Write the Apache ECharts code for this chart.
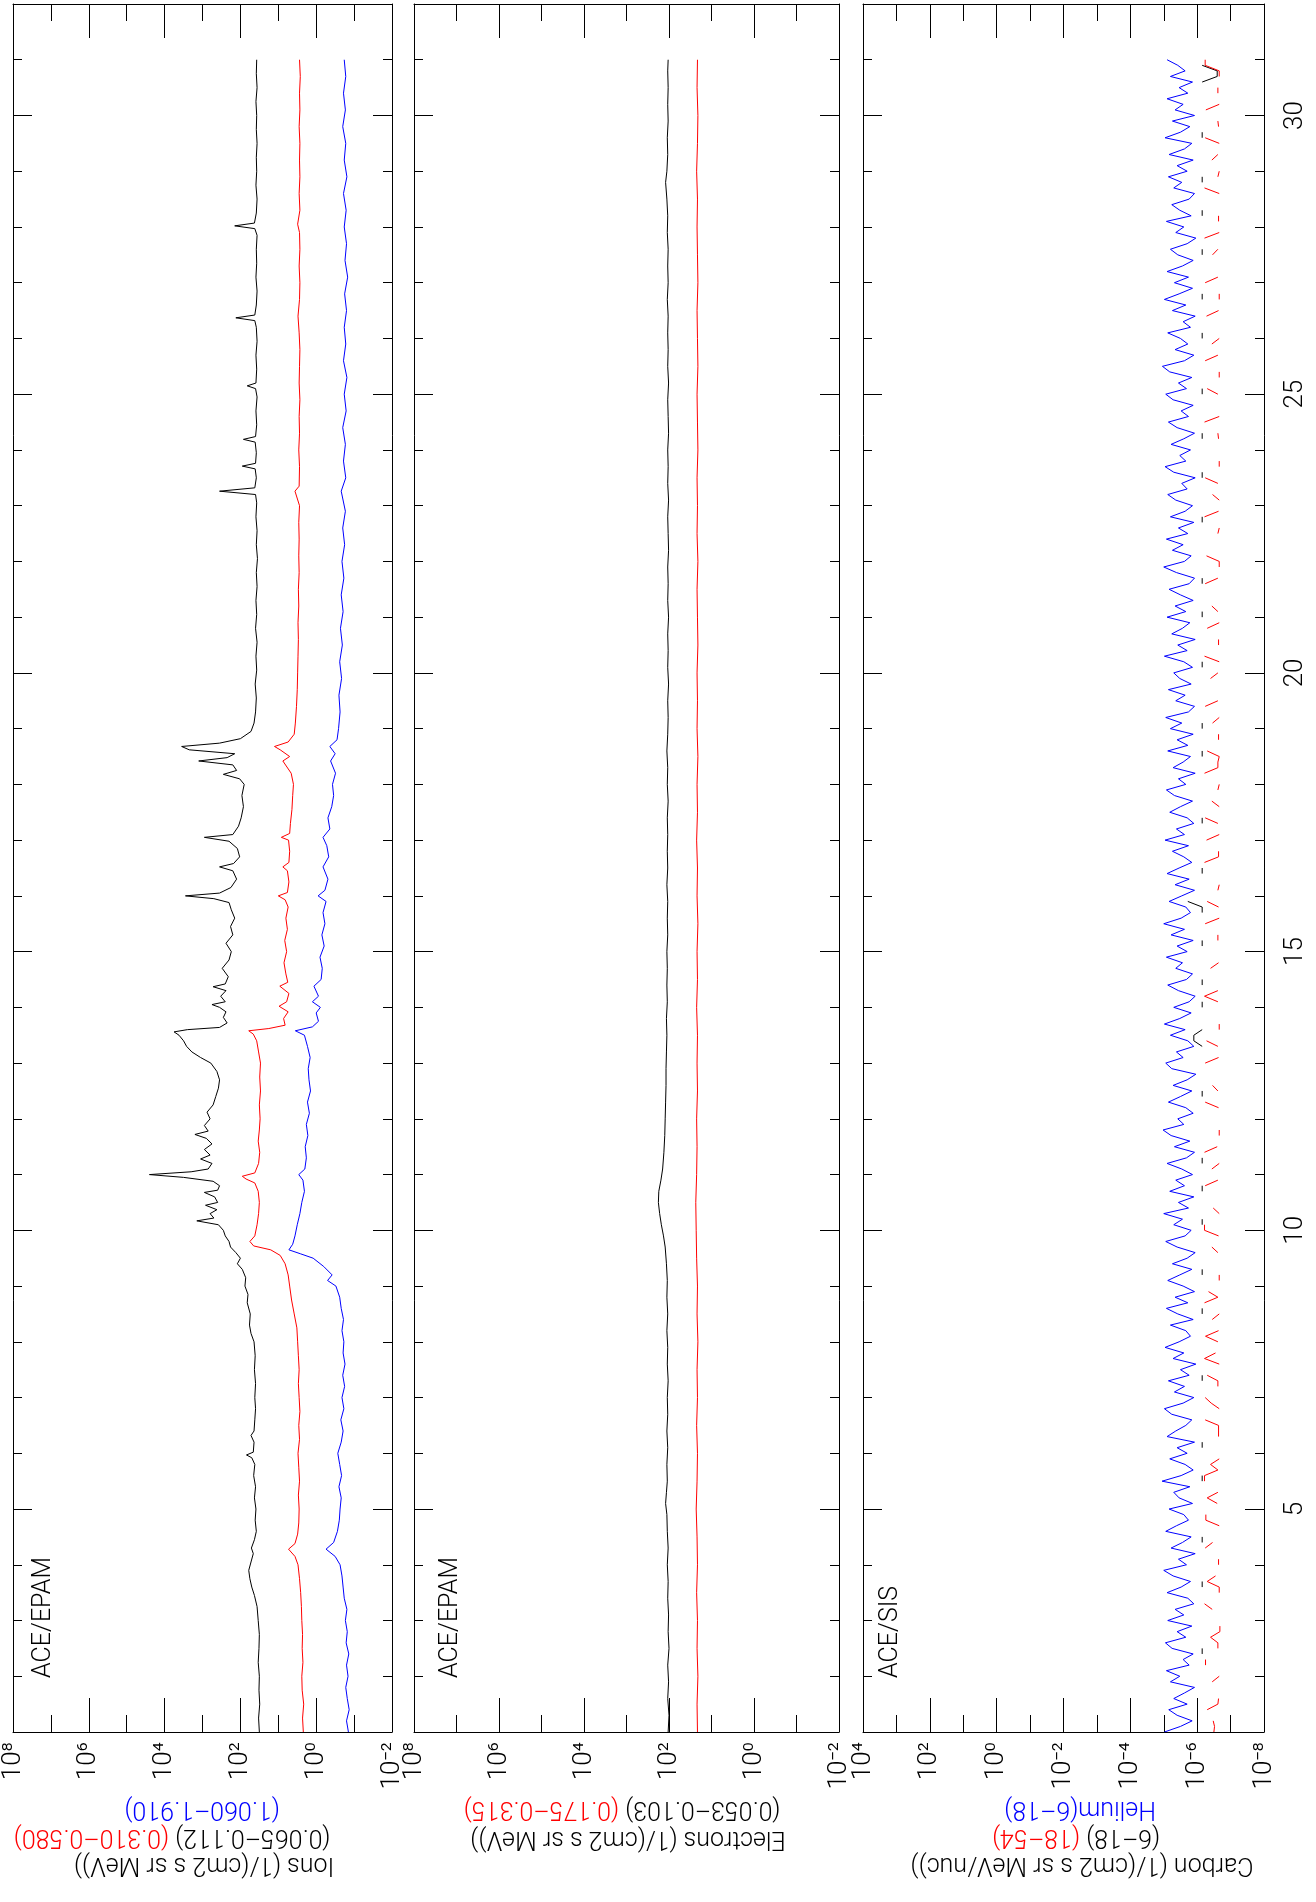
<!DOCTYPE html>
<html>
<head>
<meta charset="utf-8">
<title>ACE EPAM / SIS particle flux</title>
<script src="https://cdn.jsdelivr.net/npm/echarts@6/dist/echarts.min.js"></script>
<style>
  html, body { margin: 0; padding: 0; background: #fff; }
  #main { width: 1316px; height: 1902px; }
</style>
</head>
<body>
<div id="main"></div>
<script>
// all fluxes are stored as log10(flux); days are day-of-month
const _ = null;

// ACE/EPAM ions [day, log10 flux]
const ionsLow = [ // 0.065-0.112 MeV (black)
  [1.0,1.50],[1.25,1.52],[1.5,1.49],[1.75,1.51],[2.0,1.50],[2.25,1.53],[2.5,1.51],[2.75,1.50],[3.0,1.53],[3.25,1.56],
  [3.45,1.63],[3.6,1.70],[3.75,1.75],[3.9,1.78],[4.05,1.72],[4.2,1.66],[4.3,1.71],[4.45,1.63],[4.6,1.58],[4.8,1.61],
  [5.0,1.59],[5.2,1.63],[5.4,1.60],[5.6,1.65],[5.8,1.62],[5.92,1.70],[5.97,1.84],[6.02,1.66],[6.2,1.64],[6.32,1.72],
  [6.4,1.64],[6.6,1.62],[6.8,1.60],[7.0,1.62],[7.25,1.60],[7.5,1.63],[7.75,1.61],[8.0,1.64],[8.15,1.72],[8.3,1.76],
  [8.5,1.74],[8.7,1.82],[8.85,1.80],[9.0,1.88],[9.15,1.86],[9.3,1.95],[9.4,2.08],[9.5,2.00],[9.6,2.12],[9.7,2.26],
  [9.8,2.30],[9.9,2.40],[10.0,2.45],[10.1,2.58],[10.17,3.15],[10.22,2.70],[10.3,2.80],[10.37,2.62],[10.45,2.92],[10.5,2.60],
  [10.6,2.68],[10.68,2.95],[10.72,2.60],[10.8,2.55],[10.88,2.72],[10.95,3.50],[11.0,4.40],[11.05,3.30],[11.1,2.85],[11.2,2.75],
  [11.28,3.05],[11.35,2.80],[11.45,2.95],[11.55,2.75],[11.65,2.90],[11.72,3.20],[11.78,2.85],[11.88,2.95],[12.0,2.80],[12.12,2.88],
  [12.25,2.72],[12.4,2.65],[12.55,2.58],[12.7,2.55],[12.85,2.62],[13.0,2.78],[13.1,3.05],[13.2,3.28],[13.3,3.42],[13.4,3.50],
  [13.5,3.62],[13.56,3.75],[13.6,3.40],[13.64,2.55],[13.72,2.35],[13.82,2.45],[13.92,2.38],[14.0,2.55],[14.05,2.75],[14.1,2.40],
  [14.2,2.52],[14.3,2.38],[14.37,2.72],[14.42,2.40],[14.55,2.32],[14.7,2.48],[14.85,2.30],[15.0,2.24],[15.15,2.38],[15.3,2.20],
  [15.45,2.26],[15.6,2.15],[15.75,2.24],[15.88,2.30],[15.95,2.70],[16.0,3.45],[16.05,2.55],[16.15,2.25],[16.3,2.10],[16.45,2.20],
  [16.52,2.55],[16.58,2.18],[16.7,2.02],[16.85,2.08],[16.98,2.30],[17.05,2.95],[17.1,2.20],[17.25,2.05],[17.4,1.98],[17.6,1.92],
  [17.8,1.96],[18.0,1.90],[18.1,2.02],[18.18,2.45],[18.25,2.10],[18.35,2.20],[18.42,3.10],[18.48,2.35],[18.55,2.15],[18.62,3.35],
  [18.68,3.55],[18.74,2.55],[18.82,2.00],[18.95,1.72],[19.1,1.64],[19.3,1.60],[19.55,1.58],[19.8,1.61],[20.05,1.57],[20.3,1.59],
  [20.55,1.56],[20.8,1.60],[21.05,1.57],[21.3,1.59],[21.55,1.56],[21.8,1.58],[22.05,1.55],[22.3,1.58],[22.55,1.56],[22.8,1.59],
  [23.05,1.57],[23.2,1.60],[23.26,2.55],[23.32,1.62],[23.5,1.58],[23.66,1.61],[23.71,1.95],[23.76,1.60],[23.95,1.58],[24.14,1.61],
  [24.19,1.92],[24.24,1.60],[24.45,1.57],[24.7,1.59],[24.95,1.56],[25.1,1.60],[25.15,1.82],[25.2,1.59],[25.45,1.57],[25.7,1.59],
  [25.95,1.56],[26.2,1.58],[26.32,1.62],[26.37,2.12],[26.42,1.62],[26.6,1.58],[26.85,1.56],[27.1,1.59],[27.35,1.57],[27.6,1.58],
  [27.85,1.56],[27.97,1.62],[28.02,2.15],[28.07,1.63],[28.25,1.58],[28.5,1.56],[28.75,1.59],[29.0,1.57],[29.25,1.58],[29.5,1.56],
  [29.75,1.58],[30.0,1.57],[30.25,1.59],[30.5,1.56],[30.75,1.58],[31.0,1.57]
];
const ionsMid = [ // 0.310-0.580 MeV (red)
  [1.0,0.34],[1.25,0.36],[1.5,0.33],[1.75,0.37],[2.0,0.38],[2.25,0.35],[2.5,0.37],[2.75,0.36],[3.0,0.38],[3.25,0.39],
  [3.5,0.41],[3.75,0.44],[4.0,0.48],[4.15,0.56],[4.28,0.73],[4.38,0.56],[4.55,0.49],[4.75,0.46],[5.0,0.45],[5.25,0.47],
  [5.5,0.44],[5.75,0.46],[6.0,0.48],[6.25,0.44],[6.5,0.46],[6.75,0.43],[7.0,0.45],[7.25,0.47],[7.5,0.45],[7.75,0.47],
  [8.0,0.49],[8.25,0.51],[8.5,0.58],[8.75,0.65],[9.0,0.70],[9.2,0.74],[9.4,0.82],[9.55,0.95],[9.65,1.20],[9.72,1.65],
  [9.8,1.75],[9.9,1.62],[10.1,1.56],[10.3,1.52],[10.5,1.50],[10.7,1.53],[10.85,1.62],[10.92,1.85],[10.97,1.95],[11.03,1.62],
  [11.2,1.52],[11.4,1.49],[11.6,1.53],[11.8,1.50],[12.0,1.48],[12.25,1.50],[12.5,1.47],[12.75,1.49],[13.0,1.47],[13.2,1.52],
  [13.4,1.57],[13.52,1.66],[13.58,1.78],[13.62,1.25],[13.68,0.82],[13.8,0.86],[13.92,0.74],[14.02,0.98],[14.1,0.78],[14.25,0.72],
  [14.38,0.96],[14.45,0.75],[14.6,0.80],[14.8,0.85],[15.0,0.78],[15.2,0.83],[15.4,0.76],[15.6,0.80],[15.8,0.74],[15.93,0.82],
  [16.0,1.00],[16.06,0.76],[16.25,0.72],[16.45,0.76],[16.52,0.88],[16.6,0.72],[16.8,0.70],[17.0,0.73],[17.05,0.92],[17.12,0.70],
  [17.3,0.68],[17.55,0.64],[17.8,0.62],[18.0,0.60],[18.2,0.66],[18.42,0.88],[18.5,0.70],[18.62,0.95],[18.68,1.10],[18.76,0.74],
  [18.9,0.58],[19.1,0.55],[19.4,0.52],[19.7,0.50],[20.0,0.49],[20.3,0.48],[20.6,0.47],[20.9,0.48],[21.2,0.46],[21.5,0.47],
  [21.8,0.45],[22.1,0.46],[22.4,0.45],[22.7,0.46],[23.0,0.44],[23.26,0.56],[23.35,0.45],[23.7,0.44],[24.0,0.46],[24.3,0.44],
  [24.6,0.45],[24.9,0.43],[25.2,0.45],[25.5,0.44],[25.8,0.43],[26.1,0.45],[26.4,0.48],[26.7,0.44],[27.0,0.43],[27.3,0.45],
  [27.6,0.43],[27.9,0.44],[28.05,0.49],[28.3,0.43],[28.6,0.45],[28.9,0.43],[29.2,0.44],[29.5,0.43],[29.8,0.45],[30.1,0.43],
  [30.4,0.44],[30.7,0.42],[31.0,0.44]
];
const ionsHigh = [ // 1.060-1.910 MeV (blue)
  [1.0,-0.85],[1.2,-0.80],[1.4,-0.87],[1.6,-0.82],[1.8,-0.78],[2.0,-0.84],[2.2,-0.80],[2.4,-0.86],[2.6,-0.79],[2.8,-0.82],
  [3.0,-0.77],[3.2,-0.81],[3.4,-0.74],[3.6,-0.71],[3.8,-0.68],[4.0,-0.63],[4.15,-0.50],[4.28,-0.26],[4.4,-0.46],[4.6,-0.56],
  [4.8,-0.61],[5.0,-0.63],[5.2,-0.66],[5.4,-0.60],[5.6,-0.67],[5.8,-0.62],[6.0,-0.57],[6.2,-0.66],[6.4,-0.71],[6.6,-0.65],
  [6.8,-0.73],[7.0,-0.68],[7.2,-0.75],[7.4,-0.70],[7.6,-0.76],[7.8,-0.71],[8.0,-0.73],[8.2,-0.68],[8.4,-0.72],[8.6,-0.66],
  [8.8,-0.62],[9.0,-0.52],[9.1,-0.30],[9.2,-0.42],[9.35,-0.20],[9.5,0.08],[9.58,0.42],[9.65,0.72],[9.75,0.62],[9.9,0.56],
  [10.1,0.50],[10.3,0.43],[10.5,0.38],[10.7,0.31],[10.9,0.35],[11.0,0.46],[11.1,0.30],[11.3,0.26],[11.5,0.29],[11.7,0.22],
  [11.9,0.26],[12.1,0.18],[12.3,0.23],[12.5,0.15],[12.7,0.19],[12.9,0.21],[13.1,0.16],[13.3,0.23],[13.5,0.31],[13.58,0.55],
  [13.65,0.10],[13.75,-0.06],[13.9,0.00],[14.0,-0.11],[14.1,0.10],[14.2,-0.06],[14.38,0.06],[14.5,-0.13],[14.7,-0.16],[14.9,-0.10],
  [15.1,-0.21],[15.3,-0.15],[15.5,-0.23],[15.7,-0.18],[15.9,-0.26],[16.0,-0.05],[16.1,-0.23],[16.3,-0.31],[16.52,-0.18],[16.7,-0.33],
  [16.9,-0.28],[17.05,-0.18],[17.2,-0.36],[17.4,-0.31],[17.6,-0.41],[17.8,-0.46],[18.0,-0.43],[18.2,-0.51],[18.42,-0.38],[18.55,-0.50],
  [18.68,-0.36],[18.8,-0.55],[19.0,-0.59],[19.3,-0.63],[19.6,-0.60],[19.9,-0.67],[20.2,-0.62],[20.5,-0.69],[20.8,-0.64],[21.1,-0.71],
  [21.4,-0.66],[21.7,-0.73],[22.0,-0.68],[22.3,-0.75],[22.6,-0.70],[22.9,-0.77],[23.26,-0.66],[23.5,-0.78],[23.8,-0.72],[24.1,-0.77],
  [24.4,-0.70],[24.7,-0.79],[25.0,-0.74],[25.3,-0.81],[25.6,-0.72],[25.9,-0.78],[26.2,-0.74],[26.5,-0.80],[26.8,-0.75],[27.1,-0.83],
  [27.4,-0.76],[27.7,-0.80],[28.0,-0.74],[28.3,-0.79],[28.6,-0.72],[28.9,-0.81],[29.2,-0.74],[29.5,-0.78],[29.8,-0.70],[30.1,-0.77],
  [30.4,-0.72],[30.7,-0.78],[31.0,-0.74]
];

// ACE/EPAM electrons [day, log10 flux]
const elecLow = [ // 0.053-0.103 MeV (black)
  [1.0,2.02],[1.3,2.00],[1.6,2.03],[1.9,2.01],[2.2,2.03],[2.5,2.00],[2.8,2.02],[3.1,2.01],[3.4,2.03],[3.7,2.02],
  [4.0,2.04],[4.3,2.02],[4.6,2.04],[4.9,2.05],[5.1,2.08],[5.3,2.06],[5.5,2.04],[5.8,2.05],[6.1,2.03],[6.4,2.05],
  [6.7,2.03],[7.0,2.04],[7.3,2.02],[7.6,2.04],[7.9,2.03],[8.2,2.05],[8.5,2.03],[8.8,2.05],[9.1,2.04],[9.4,2.06],
  [9.7,2.09],[9.9,2.13],[10.1,2.18],[10.3,2.22],[10.5,2.25],[10.7,2.24],[10.9,2.19],[11.1,2.15],[11.4,2.12],[11.7,2.10],
  [12.0,2.09],[12.3,2.08],[12.6,2.07],[12.9,2.07],[13.2,2.06],[13.5,2.05],[13.8,2.06],[14.1,2.04],[14.4,2.05],[14.7,2.04],
  [15.0,2.05],[15.3,2.03],[15.6,2.04],[15.9,2.03],[16.2,2.05],[16.5,2.03],[16.8,2.04],[17.1,2.03],[17.4,2.04],[17.7,2.02],
  [18.0,2.04],[18.3,2.03],[18.6,2.05],[18.9,2.03],[19.2,2.02],[19.5,2.03],[19.8,2.01],[20.1,2.03],[20.4,2.02],[20.7,2.03],
  [21.0,2.01],[21.3,2.03],[21.6,2.02],[21.9,2.03],[22.2,2.01],[22.5,2.02],[22.8,2.03],[23.1,2.01],[23.4,2.03],[23.7,2.02],
  [24.0,2.03],[24.3,2.01],[24.6,2.02],[24.9,2.03],[25.2,2.01],[25.5,2.03],[25.8,2.02],[26.1,2.03],[26.4,2.02],[26.7,2.04],
  [27.0,2.02],[27.3,2.03],[27.6,2.02],[27.9,2.04],[28.2,2.03],[28.5,2.05],[28.8,2.08],[29.0,2.05],[29.3,2.03],[29.6,2.04],
  [29.9,2.02],[30.2,2.03],[30.5,2.02],[30.8,2.03],[31.0,2.02]
];
const elecMid = [ // 0.175-0.315 MeV (red)
  [1.0,1.33],[1.5,1.34],[2.0,1.32],[2.5,1.34],[3.0,1.33],[3.5,1.35],[4.0,1.33],[4.5,1.34],[5.0,1.36],[5.5,1.34],
  [6.0,1.33],[6.5,1.35],[7.0,1.33],[7.5,1.34],[8.0,1.32],[8.5,1.34],[9.0,1.33],[9.5,1.35],[10.0,1.36],[10.5,1.37],
  [11.0,1.35],[11.5,1.34],[12.0,1.35],[12.5,1.33],[13.0,1.34],[13.5,1.33],[14.0,1.35],[14.5,1.33],[15.0,1.34],[15.5,1.32],
  [16.0,1.34],[16.5,1.33],[17.0,1.35],[17.5,1.33],[18.0,1.34],[18.5,1.32],[19.0,1.34],[19.5,1.33],[20.0,1.34],[20.5,1.32],
  [21.0,1.33],[21.5,1.34],[22.0,1.32],[22.5,1.34],[23.0,1.33],[23.5,1.34],[24.0,1.32],[24.5,1.33],[25.0,1.34],[25.5,1.32],
  [26.0,1.33],[26.5,1.34],[27.0,1.32],[27.5,1.33],[28.0,1.34],[28.5,1.33],[29.0,1.35],[29.5,1.33],[30.0,1.32],[30.5,1.34],
  [31.0,1.33]
];

// ACE/SIS, one value every 0.1 day from day 1.0 to 31.0 (null = no counts)
const sisStart = 1, sisStep = 0.1;
const helium = [ // Helium 6-18 MeV/nuc (blue)
  -5.02,-5.50,-5.85,-5.40,-5.15,-5.70,-5.30,-5.62,-5.92,-5.20,
  -5.48,-5.08,-5.76,-5.58,-5.88,-5.25,-5.05,-5.66,-5.40,-5.84,
  -5.12,-5.60,-5.34,-5.90,-5.72,-5.10,-5.52,-5.80,-5.28,-5.00,
  -5.68,-5.44,-5.94,-5.22,-5.56,-5.82,-5.06,-5.38,-5.74,-5.60,
  -5.16,-5.86,-5.46,-5.30,-5.78,-4.95,-5.52,-5.88,-5.64,-5.18,
  -5.70,-5.40,-5.92,-5.10,-5.36,-5.66,-5.84,-5.24,-5.02,-5.58,
  -5.90,-5.32,-5.62,-5.14,-5.76,-5.50,-5.96,-5.28,-5.60,-5.04,
  -5.46,-5.80,-5.66,-5.20,-5.88,-5.42,-5.08,-5.72,-5.34,-5.92,
  -5.58,-5.12,-5.48,-5.84,-5.26,-5.70,-5.94,-5.40,-5.06,-5.64,
  -5.82,-5.30,-5.56,-5.00,-5.74,-5.44,-5.90,-5.18,-5.62,-5.36,
  -5.86,-5.54,-5.10,-5.68,-5.92,-5.32,-5.78,-5.22,-4.98,-5.60,
  -5.42,-5.88,-5.66,-5.14,-5.50,-5.84,-5.28,-5.70,-5.96,-5.24,
  -5.06,-5.58,-5.38,-5.90,-5.72,-5.20,-5.64,-5.02,-5.48,-5.82,
  -5.30,-5.76,-5.94,-5.44,-5.12,-5.68,-5.86,-5.36,-5.56,-5.08,
  -5.70,-5.40,-5.88,-5.22,-5.62,-5.00,-5.52,-5.80,-5.66,-5.16,
  -5.54,-5.92,-5.34,-5.76,-5.10,-5.46,-5.84,-5.60,-5.26,-5.74,
  -5.04,-5.62,-5.38,-5.90,-5.70,-5.18,-5.50,-5.86,-5.32,-5.08,
  -5.66,-5.44,-5.94,-5.28,-5.58,-5.80,-5.12,-5.72,-5.40,-5.88,
  -5.20,-5.54,-5.06,-5.74,-5.92,-5.36,-5.64,-5.14,-5.82,-5.48,
  -5.30,-5.86,-5.60,-5.02,-5.70,-5.42,-5.94,-5.24,-5.56,-5.78,
  -5.10,-5.66,-5.34,-5.88,-5.50,-5.16,-5.76,-5.92,-5.38,-5.00,
  -5.62,-5.82,-5.26,-5.58,-5.08,-5.72,-5.44,-5.90,-5.20,-5.64,
  -5.86,-5.36,-5.12,-5.70,-5.54,-5.94,-5.30,-5.04,-5.66,-5.48,
  -5.80,-5.22,-5.60,-5.92,-5.40,-5.14,-5.74,-5.52,-5.88,-5.28,
  -5.06,-5.68,-5.44,-5.84,-5.18,-4.96,-5.62,-5.90,-5.34,-5.72,
  -5.50,-5.12,-5.80,-5.58,-5.94,-5.26,-5.66,-5.02,-5.46,-5.86,
  -5.32,-5.74,-5.10,-5.56,-5.88,-5.42,-5.20,-5.70,-5.96,-5.36,
  -5.60,-5.08,-5.82,-5.48,-5.24,-5.76,-5.92,-5.30,-5.54,-5.14,
  -5.70,-5.40,-5.88,-5.16,-5.62,-5.84,-5.04,-5.50,-5.78,-5.26,
  -5.92,-5.34,-5.58,-5.10,-5.72,-5.46,-5.86,-5.20,-5.64,-5.42,
  -5.10
];
const carbonHigh = [ // Carbon 18-54 MeV/nuc (red)
  -6.50,-6.52,-6.48,_,-6.30,-6.62,-6.64,_,_,-6.45,
  -6.66,_,-6.25,-6.25,_,-6.62,-6.62,-6.40,-6.68,-6.68,
  _,_,-6.45,-6.22,_,-6.66,-6.66,-6.30,-6.55,_,
  -6.64,-6.64,_,-6.24,-6.46,_,_,-6.66,-6.26,-6.26,
  _,-6.60,-6.30,-6.62,_,-6.22,-6.22,-6.62,-6.40,-6.66,
  _,-6.48,_,-6.64,-6.64,-6.64,-6.24,_,-6.66,-6.42,
  -6.24,_,-6.62,-6.62,-6.30,_,-6.66,-6.22,-6.55,_,
  -6.62,-6.25,-6.64,_,-6.45,-6.66,_,-6.22,-6.62,-6.34,
  _,-6.66,-6.66,_,-6.28,_,-6.62,-6.44,_,-6.64,
  -6.22,-6.22,_,-6.66,-6.48,_,-6.64,_,-6.24,-6.62,
  _,-6.44,-6.66,_,-6.22,-6.60,_,-6.66,-6.66,_,
  -6.30,_,-6.64,-6.24,_,-6.62,-6.46,_,-6.66,_,
  -6.24,-6.64,_,-6.62,-6.28,_,-6.66,-6.66,_,-6.45,
  _,-6.62,-6.22,-6.62,_,-6.66,_,-6.40,-6.64,_,
  -6.66,_,-6.62,-6.62,_,-6.24,-6.66,_,-6.64,-6.30,
  _,-6.62,-6.66,_,-6.64,_,-6.22,-6.64,-6.64,_,
  -6.28,-6.66,_,-6.62,-6.24,_,-6.66,-6.44,_,-6.62,
  -6.66,_,-6.22,-6.62,-6.62,-6.66,-6.30,_,-6.64,-6.64,
  _,-6.46,-6.66,_,-6.24,-6.62,_,-6.66,_,-6.40,
  -6.62,_,-6.66,-6.22,_,-6.64,-6.64,_,-6.30,-6.66,
  _,-6.62,-6.44,_,-6.66,_,-6.24,-6.62,_,-6.66,
  -6.66,-6.28,_,-6.64,_,-6.62,-6.66,_,-6.22,-6.64,
  _,-6.66,-6.46,_,-6.62,-6.24,_,-6.66,-6.66,_,
  -6.40,_,-6.64,-6.62,_,-6.22,-6.66,_,-6.64,_,
  -6.62,-6.30,_,-6.66,-6.66,_,-6.24,-6.62,_,-6.44,
  -6.66,_,-6.62,_,-6.28,-6.64,_,-6.66,-6.66,_,
  -6.24,-6.62,_,-6.66,_,-6.46,-6.62,_,-6.22,-6.66,
  _,-6.64,-6.64,_,-6.30,_,-6.66,-6.22,_,-6.62,
  -6.66,_,-6.44,-6.62,_,-6.66,-6.24,_,-6.64,-6.62,
  _,-6.26,-6.66,_,-6.62,-6.62,_,-6.66,-6.66,-6.24,
  -6.24
];
const carbonLow = [ // Carbon 6-18 MeV/nuc (black)
  _,_,_,_,_,_,_,_,_,_,
  _,_,_,_,-6.15,-6.15,_,_,_,_,
  _,_,_,_,_,_,-6.15,-6.15,_,_,
  _,_,_,_,-6.15,-6.15,_,_,_,_,
  _,_,_,_,_,-6.15,-6.15,_,_,_,
  _,-6.15,-6.15,_,_,_,_,_,_,_,
  _,_,_,-6.15,-6.15,_,_,_,_,_,
  _,_,_,_,_,-6.15,-6.15,_,_,_,
  _,_,-6.15,-6.15,_,_,_,_,_,_,
  _,-6.15,-6.15,_,_,_,_,-6.15,-6.15,_,
  _,_,-6.15,-6.15,_,_,_,_,_,_,
  _,_,_,_,-6.15,-6.15,_,_,_,_,
  _,_,_,-6.15,-5.90,-5.90,-6.15,_,_,_,
  -6.15,-6.15,_,_,-6.15,-6.15,_,_,_,_,
  _,-6.15,-6.15,_,_,_,_,-6.15,-6.15,-5.72,
  _,_,_,_,-6.15,-6.15,_,_,_,_,
  _,_,_,-6.15,-6.15,_,_,_,_,_,
  _,_,_,_,_,-6.15,-6.15,_,_,_,
  -6.15,-6.15,_,_,_,_,_,_,_,_,
  _,-6.15,-6.15,_,_,_,_,_,_,_,
  -6.15,-6.15,_,_,_,_,-6.15,-6.15,_,_,
  _,_,_,_,_,_,_,-6.15,-6.15,_,
  _,_,_,_,_,-6.15,-6.15,_,_,_,
  _,_,-6.15,-6.15,_,_,_,_,_,_,
  -6.15,-6.15,_,_,_,_,_,_,_,_,
  -6.15,-6.15,_,_,_,_,_,-6.15,-6.15,_,
  _,_,_,_,_,-6.15,-6.15,_,_,_,
  _,_,-6.15,-6.15,_,_,_,_,-6.15,-6.15,
  _,_,_,_,_,_,-6.15,-6.15,_,_,
  _,_,_,_,_,_,-6.15,-6.60,-6.60,-6.15,
  _
];

// axis ticks
const dayMajorTicks = [5, 10, 15, 20, 25, 30];
const dayMin = 1, dayMax = 32;

const FONT = 'Roboto';
const panels = [
  { left: 13, width: 379, min: -2, max: 8 },
  { left: 414, width: 425, min: -2, max: 8 },
  { left: 863, width: 401, min: -8, max: 4 }
];

const chart = echarts.init(document.getElementById('main'), null, { renderer: 'canvas' });

const SUP = { '0': '\u2070', '1': '\u00b9', '2': '\u00b2', '3': '\u00b3', '4': '\u2074',
  '5': '\u2075', '6': '\u2076', '7': '\u2077', '8': '\u2078', '9': '\u2079', '-': '\u207b' };
function powLabel (v) {
  return '10' + String(v).split('').map(c => SUP[c] || c).join('');
}

const black = { color: '#000', width: 1 };
const xAxes = [];
const yAxes = [];
panels.forEach((p, g) => {
  ['bottom', 'top'].forEach(pos => {
    xAxes.push({
      gridIndex: g, type: 'value', position: pos, inverse: true,
      min: p.min, max: p.max, interval: 2,
      axisLine: { show: true, onZero: false, lineStyle: black },
      axisTick: { show: true, inside: true, length: 34, lineStyle: black },
      minorTick: { show: true, splitNumber: 2, length: 17, lineStyle: black },
      splitLine: { show: false },
      minorSplitLine: { show: false },
      axisLabel: pos === 'bottom' ? {
        show: true, rotate: 90, margin: 10, formatter: powLabel,
        fontSize: 26, fontFamily: FONT, fontWeight: 300, color: '#000'
      } : { show: false }
    });
  });
  ['left', 'right'].forEach(pos => {
    // minor day ticks + frame
    yAxes.push({
      gridIndex: g, type: 'value', position: pos, min: dayMin, max: dayMax, interval: 1,
      axisLine: { show: true, onZero: false, lineStyle: black },
      axisTick: { show: true, inside: true, length: 9, lineStyle: black },
      axisLabel: { show: false },
      splitLine: { show: false }
    });
    // major day ticks (every 5 days)
    yAxes.push({
      gridIndex: g, type: 'value', position: pos, min: dayMin, max: dayMax, interval: 1,
      axisLine: { show: false, onZero: false },
      axisTick: { show: true, inside: true, length: 19, customValues: dayMajorTicks, lineStyle: black },
      axisLabel: (pos === 'right' && g === 2) ? {
        show: true, customValues: dayMajorTicks, rotate: 90, margin: 18,
        fontSize: 26, fontFamily: FONT, fontWeight: 300, color: '#000'
      } : { show: false },
      splitLine: { show: false }
    });
  });
});

function lineFromPairs (g, pts, color) {
  return {
    type: 'line', xAxisIndex: 2 * g, yAxisIndex: 4 * g,
    data: pts.map(p => [p[1], p[0]]),
    showSymbol: false, symbol: 'none', silent: true,
    lineStyle: { color: color, width: 1 }
  };
}
function lineFromSis (vals, color) {
  return {
    type: 'line', xAxisIndex: 4, yAxisIndex: 8,
    data: vals.map((v, i) => [v, +(sisStart + i * sisStep).toFixed(2)]),
    showSymbol: false, symbol: 'none', silent: true, connectNulls: false,
    lineStyle: { color: color, width: 1 }
  };
}

function txt (x, y, rot, text, fill, rich) {
  const style = {
    text: text, fill: fill || '#000', fontSize: 25, fontFamily: FONT, fontWeight: 300,
    align: rot === Math.PI ? 'center' : 'left', verticalAlign: 'middle'
  };
  if (rich) style.rich = rich;
  return { type: 'text', x: x, y: y, rotation: rot, silent: true, style: style };
}
const twoTone = {
  k: { fill: '#000', fontSize: 25, fontFamily: FONT, fontWeight: 300 },
  r: { fill: '#ff0000', fontSize: 25, fontFamily: FONT, fontWeight: 300 }
};
const UP = Math.PI / 2, FLIP = Math.PI;

const option = {
  animation: false,
  backgroundColor: '#fff',
  textStyle: { fontFamily: FONT, fontWeight: 300 },
  grid: panels.map(p => ({
    left: p.left, width: p.width, top: 4, height: 1728,
    containLabel: false, outerBoundsMode: 'none'
  })),
  xAxis: xAxes,
  yAxis: yAxes,
  series: [
    lineFromPairs(0, ionsLow, '#000000'),
    lineFromPairs(0, ionsMid, '#ff0000'),
    lineFromPairs(0, ionsHigh, '#0000ff'),
    lineFromPairs(1, elecLow, '#000000'),
    lineFromPairs(1, elecMid, '#ff0000'),
    lineFromSis(helium, '#0000ff'),
    lineFromSis(carbonLow, '#000000'),
    lineFromSis(carbonHigh, '#ff0000')
  ],
  graphic: [
    txt(44, 1678, UP, 'ACE/EPAM'),
    txt(451, 1678, UP, 'ACE/EPAM'),
    txt(891, 1678, UP, 'ACE/SIS'),
    txt(202, 1808, FLIP, '(1.060\u20131.910)', '#0000ff'),
    txt(172, 1836, FLIP, '{k|(0.065\u20130.112)} {r|(0.310\u20130.580)}', '#000', twoTone),
    txt(204, 1864, FLIP, 'Ions (1/(cm2 s sr MeV))'),
    txt(622, 1808, FLIP, '{k|(0.053\u20130.103)} {r|(0.175\u20130.315)}', '#000', twoTone),
    txt(628, 1838, FLIP, 'Electrons (1/(cm2 s sr MeV))'),
    txt(1080, 1808, FLIP, 'Helium(6\u201318)', '#0000ff'),
    txt(1076, 1836, FLIP, '{k|(6\u201318)} {r|(18\u201354)}', '#000', twoTone),
    txt(1082, 1864, FLIP, 'Carbon (1/(cm2 s sr MeV/nuc))')
  ]
};
chart.setOption(option);
</script>
</body>
</html>
